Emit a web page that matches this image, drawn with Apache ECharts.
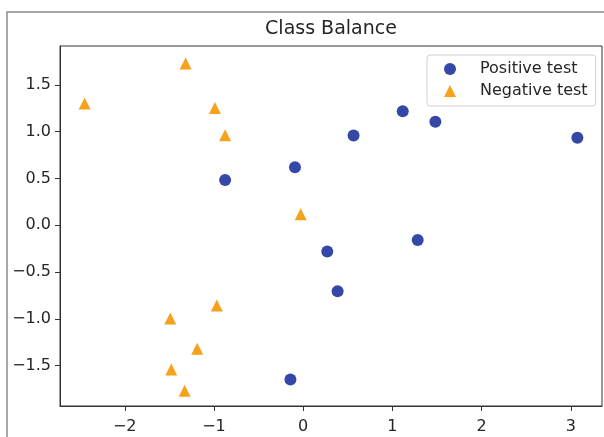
<!DOCTYPE html>
<html>
<head>
<meta charset="utf-8">
<script src="https://cdn.jsdelivr.net/npm/echarts@6/dist/echarts.min.js"></script>
<style>
  html, body { margin: 0; padding: 0; background: #fff; }
  #chart { width: 604px; height: 437px; }
</style>
</head>
<body>
<div id="chart"></div>
<script>
// values
const positiveX = [-0.875, -0.092, 0.565, 1.116, 1.482, 3.074, 1.284, 0.27, 0.386, -0.143]
const positiveY = [0.483, 0.62, 0.96, 1.219, 1.105, 0.934, -0.157, -0.281, -0.704, -1.646]
const negativeX = [-2.45, -1.318, -0.99, -0.875, -0.028, -0.968, -1.49, -1.188, -1.479, -1.329]
const negativeY = [1.30, 1.727, 1.254, 0.963, 0.117, -0.857, -0.996, -1.319, -1.539, -1.767]
const xTicks = [-2, -1, 0, 1, 2, 3]
const yTicks = [-1.5, -1.0, -0.5, 0.0, 0.5, 1.0, 1.5]

const font = 'DejaVu Sans'
const axisColor = '#333'
const textColor = '#262626'

function minus(s) {
  return String(s).replace('-', '\u2212')
}

const chart = echarts.init(document.getElementById('chart'))
chart.setOption({
  animation: false,
  backgroundColor: '#fff',
  graphic: [{
    type: 'rect',
    shape: { x: 7, y: 12, width: 700, height: 500 },
    style: { fill: 'none', stroke: '#8a8a8a', lineWidth: 1.5 }
  }],
  title: {
    text: 'Class Balance',
    left: 331,
    top: 20,
    padding: 0,
    textAlign: 'center',
    textStyle: { fontFamily: font, fontSize: 19, fontWeight: 'normal', color: textColor }
  },
  grid: {
    left: 60, right: 2, top: 46, bottom: 31,
    show: true,
    borderColor: axisColor,
    borderWidth: 1
  },
  legend: {
    orient: 'vertical',
    left: 427,
    top: 55,
    padding: [6, 8, 7, 17],
    itemWidth: 12,
    itemHeight: 12,
    itemGap: 6,
    borderColor: '#d0d0d0',
    borderWidth: 1,
    borderRadius: 3,
    textStyle: { fontFamily: font, fontSize: 16, color: textColor, padding: [0, 0, 0, 19] },
    data: ['Positive test', 'Negative test']
  },
  xAxis: {
    type: 'value',
    min: -2.726,
    max: 3.35,
    splitLine: { show: false },
    axisLine: { onZero: false, lineStyle: { color: axisColor, width: 1 } },
    axisTick: { show: true, length: 5, customValues: xTicks, lineStyle: { color: axisColor } },
    axisLabel: {
      customValues: xTicks,
      margin: 13,
      fontFamily: font, fontSize: 16, color: textColor,
      formatter: v => minus(v)
    }
  },
  yAxis: {
    type: 'value',
    min: -1.93,
    max: 1.915,
    splitLine: { show: false },
    axisLine: { show: true, onZero: false, lineStyle: { color: axisColor, width: 1 } },
    axisTick: { show: true, length: 5, customValues: yTicks, lineStyle: { color: axisColor } },
    axisLabel: {
      customValues: yTicks,
      margin: 9,
      fontFamily: font, fontSize: 16, color: textColor,
      formatter: v => minus(v.toFixed(1))
    }
  },
  series: [
    {
      name: 'Positive test',
      type: 'scatter',
      symbol: 'circle',
      symbolSize: 12,
      itemStyle: { color: '#3548a8', opacity: 1 },
      data: positiveX.map((x, i) => [x, positiveY[i]])
    },
    {
      name: 'Negative test',
      type: 'scatter',
      symbol: 'triangle',
      symbolSize: 12,
      itemStyle: { color: '#f6a21c', opacity: 1 },
      data: negativeX.map((x, i) => [x, negativeY[i]])
    }
  ]
})
</script>
</body>
</html>
